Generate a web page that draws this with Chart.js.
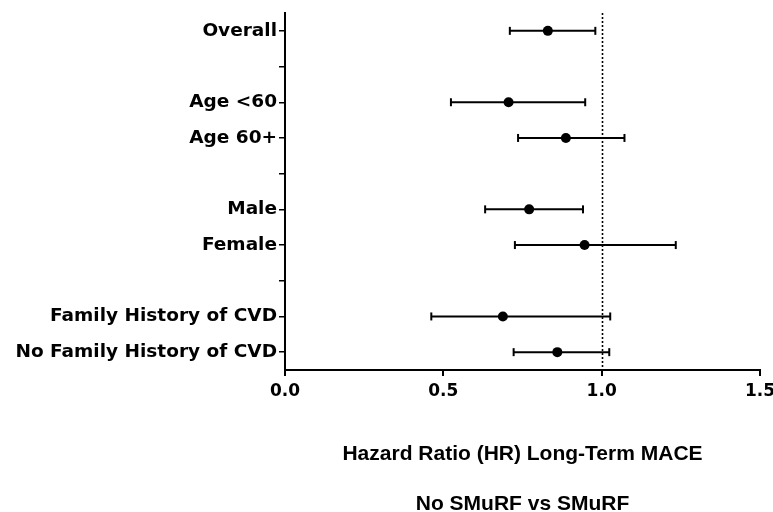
<!DOCTYPE html>
<html>
<head>
<meta charset="utf-8">
<script src="https://cdn.jsdelivr.net/npm/chart.js@4/dist/chart.umd.min.js"></script>
<style>
  html, body { margin:0; padding:0; background:#fff; }
</style>
</head>
<body>
<canvas id="chart" width="773" height="512"></canvas>
<script>
// rows of the y axis (blank rows separate the groups)
const rows = ["Overall", "", "Age <60", "Age 60+", " ", "Male", "Female", "  ", "Family History of CVD", "No Family History of CVD"];
// subgroups that carry an estimate
const groups = ["Overall", "Age <60", "Age 60+", "Male", "Female", "Family History of CVD", "No Family History of CVD"];
const hr     = [0.83, 0.706, 0.887, 0.771, 0.946, 0.688, 0.86];
const ciLow  = [0.71, 0.524, 0.736, 0.632, 0.726, 0.462, 0.722];
const ciHigh = [0.98, 0.948, 1.072, 0.941, 1.234, 1.027, 1.024];
const xTicks = [0, 0.5, 1.0, 1.5];
const refValue = 1.0;
const xTitle = ["Hazard Ratio (HR) Long-Term MACE", "", "", "", "No SMuRF vs SMuRF"];

const wideFont = "'DejaVu Sans', Verdana, sans-serif";
const titleFont = "'Liberation Sans', Arial, Helvetica, sans-serif";

// dotted line at HR = 1
const refLine = {
  id: "refLine",
  beforeDatasetsDraw(chart){
    const { ctx, chartArea, scales } = chart;
    const x = Math.round(scales.x.getPixelForValue(refValue)) + 0.5;
    ctx.save();
    ctx.strokeStyle = "#000";
    ctx.lineWidth = 1.6;
    ctx.setLineDash([2, 2]);
    ctx.beginPath();
    ctx.moveTo(x, chartArea.top);
    ctx.lineTo(x, chartArea.bottom);
    ctx.stroke();
    ctx.restore();
  }
};

const ciSets = groups.map((g, i) => ({
  data: [{ x: ciLow[i], y: g }, { x: ciHigh[i], y: g }],
  showLine: true,
  borderColor: "#000",
  borderWidth: 2,
  pointStyle: "line",
  pointRotation: 90,
  pointRadius: 4,
  pointBorderWidth: 2,
  pointBorderColor: "#000",
  order: 2
}));

const pointSet = {
  data: groups.map((g, i) => ({ x: hr[i], y: g })),
  pointStyle: "circle",
  pointRadius: 5,
  pointBackgroundColor: "#000",
  pointBorderColor: "#000",
  pointBorderWidth: 0,
  order: 0
};

new Chart(document.getElementById("chart"), {
  type: "scatter",
  data: { datasets: [pointSet, ...ciSets] },
  plugins: [refLine],
  options: {
    responsive: false,
    animation: false,
    layout: { padding: { top: 13, right: 13, left: 0, bottom: 0 } },
    plugins: { legend: { display: false }, tooltip: { enabled: false } },
    scales: {
      x: {
        type: "linear",
        min: 0,
        max: 1.5,
        afterBuildTicks: s => { s.ticks = xTicks.map(v => ({ value: v })); },
        afterFit: s => { s.height = 142; s.paddingLeft = 0; s.paddingRight = 0; },
        border: { color: "#000", width: 2 },
        grid: { drawOnChartArea: false, color: "#000", lineWidth: 2, tickLength: 6 },
        ticks: {
          color: "#000",
          padding: 5,
          font: { family: wideFont, size: 17, weight: "bold" },
          callback: v => Number(v).toFixed(1)
        },
        title: {
          display: true,
          text: xTitle,
          color: "#000",
          padding: { top: 0, bottom: 1.75 },
          font: { family: titleFont, size: 21, weight: "bold", lineHeight: 12.5 / 21 }
        }
      },
      y: {
        type: "category",
        labels: rows,
        offset: true,
        afterFit: s => { s.width = 285; s.paddingTop = 0; s.paddingBottom = 0; },
        border: { color: "#000", width: 2 },
        grid: { drawOnChartArea: false, color: "#000", lineWidth: 1.5, tickLength: 6, offset: false },
        ticks: {
          color: "#000",
          padding: 2,
          font: { family: wideFont, size: 18.5, weight: "bold" }
        }
      }
    }
  }
});
</script>
</body>
</html>
